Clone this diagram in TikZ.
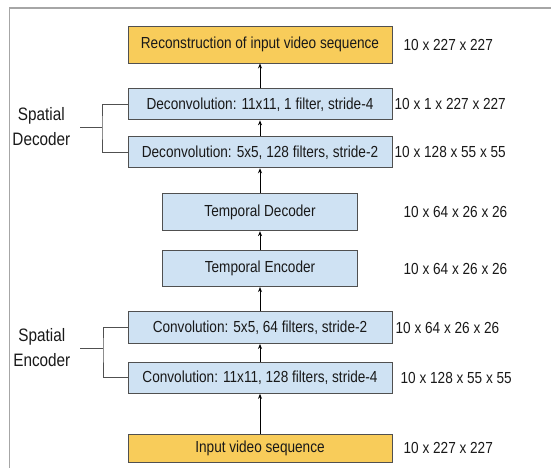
\documentclass[tikz,border=0pt]{standalone}
\usepackage{fontspec}
\setmainfont{Liberation Sans}[FakeStretch=0.85]
\usepackage{xcolor}
\usepackage{tikz}
\usetikzlibrary{arrows.meta, positioning, calc}

\definecolor{layerblue}{RGB}{207,226,243}
\definecolor{ioyellow}{RGB}{248,204,90}
\definecolor{edgegray}{RGB}{80,80,80}

\begin{document}
\begin{tikzpicture}[
    x=1pt, y=1pt,
    node distance=25pt,
    font=\fontsize{16}{19}\selectfont,
    >={Stealth[length=5pt, width=4pt]},
    % Styles
    layer/.style={rectangle, draw=edgegray, line width=0.9pt, fill=layerblue, text=black!90, minimum width=264pt, minimum height=31pt, inner sep=0pt},
    temporal/.style={layer, minimum width=195pt, minimum height=37pt},
    iobox/.style={layer, fill=ioyellow},
    dim/.style={text=black!90, inner sep=0pt},
    sidelbl/.style={font=\fontsize{18}{25}\selectfont, text=black!90, align=center, inner ysep=0pt, inner xsep=9.5pt},
    link/.style={->, line width=0.8pt, black},
    brace/.style={line width=0.9pt, edgegray}
]
\useasboundingbox (0,0) rectangle (551,-468);

% page frame
\draw[gray!70, line width=1.4pt] (9.5,-468) -- (9.5,-8) -- (551,-8);

% --- Layer stack ---
\node[iobox, minimum height=37pt] (recon) at (260,-44.5) {Reconstruction of input video sequence};
\node[layer, below=25pt of recon] (deconvA) {Deconvolution: 11x11, 1 filter, stride-4};
\node[layer, below=16pt of deconvA] (deconvB) {Deconvolution: 5x5, 128 filters, stride-2};
\node[temporal, below=25pt of deconvB] (tdec) {Temporal Decoder};
\node[temporal, below=19pt of tdec, minimum height=36pt] (tenc) {Temporal Encoder};
\node[layer, below=24pt of tenc, minimum height=32pt] (convB) {Convolution: 5x5, 64 filters, stride-2};
\node[layer, below=18pt of convB] (convA) {Convolution: 11x11, 128 filters, stride-4};
\node[iobox, below=40pt of convA, minimum height=28pt] (input) {Input video sequence};

% --- Output sizes ---
\node[dim, right=11pt of recon] (dimrecon) {10 x 227 x 227};
\node[dim, right=2pt of deconvA] (dimdeconvA) {10 x 1 x 227 x 227};
\node[dim, right=2pt of deconvB] (dimdeconvB) {10 x 128 x 55 x 55};
\node[dim, anchor=west] (dimtdec) at (dimrecon.west |- tdec) {10 x 64 x 26 x 26};
\node[dim, anchor=west] (dimtenc) at (dimrecon.west |- tenc) {10 x 64 x 26 x 26};
\node[dim, right=3pt of convB] (dimconvB) {10 x 64 x 26 x 26};
\node[dim, right=8pt of convA] (dimconvA) {10 x 128 x 55 x 55};
\node[dim, right=11pt of input] (diminput) {10 x 227 x 227};

% --- Flow ---
\draw[link] (input) -- (convA);
\draw[link] (convA) -- (convB);
\draw[link] (convB) -- (tenc);
\draw[link] (tenc) -- (tdec);
\draw[link] (tdec) -- (deconvB);
\draw[link] (deconvB) -- (deconvA);
\draw[link] (deconvA) -- (recon);

% --- Spatial groups (left) ---
\coordinate (decjoin) at (102,-127);
\coordinate (encjoin) at (103,-348);
\node[sidelbl, anchor=east] (spdec) at (80,-127) {Spatial\\Decoder};
\node[sidelbl, anchor=east] (spenc) at (80,-348) {Spatial\\Encoder};

\draw[brace] (deconvA.west) -| (decjoin) |- (deconvB.west);
\draw[brace] (spdec.east) -- (decjoin);
\draw[brace] (convB.west) -| (encjoin) |- (convA.west);
\draw[brace] (spenc.east) -- (encjoin);

\end{tikzpicture}
\end{document}
